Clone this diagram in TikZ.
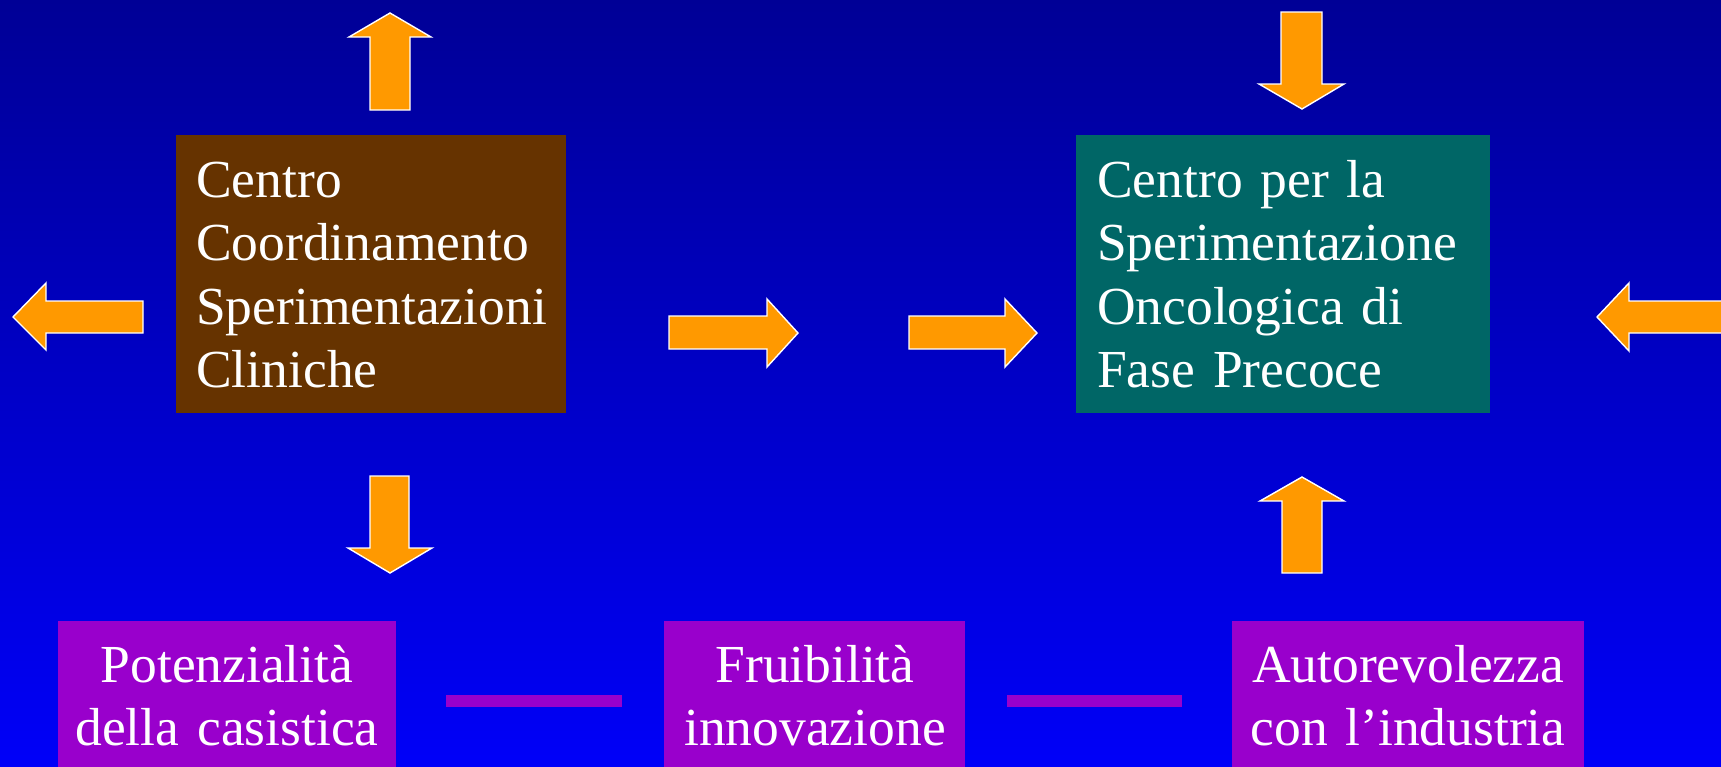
\documentclass[tikz,border=0pt]{standalone}
\usepackage{fontspec}
\setmainfont{Liberation Serif}
\newcommand\myboxfont{\fontsize{53.5pt}{63.5pt}\selectfont\spaceskip=8.5pt plus 1pt minus 1pt\relax}
\newcommand\mybottomfont{\fontsize{53.5pt}{63pt}\selectfont\spaceskip=8.5pt plus 1pt minus 1pt\relax}
\definecolor{bgtop}{RGB}{0,0,150}
\definecolor{bgmid}{RGB}{0,0,222}
\definecolor{bgbot}{RGB}{0,0,248}
\definecolor{brownbox}{HTML}{663300}
\definecolor{tealbox}{HTML}{006666}
\definecolor{purplebox}{HTML}{9900CC}
\definecolor{arroworange}{HTML}{FF9900}
\begin{document}
\begin{tikzpicture}[x=1pt,y=-1pt,
  boxshape/.style={rectangle, inner sep=0pt, anchor=north west},
  boxtext/.style={inner sep=0pt, text=white, font=\myboxfont},
  bottomtext/.style={inner sep=0pt, text=white, anchor=base, align=center, font=\mybottomfont},
  barrow/.style={fill=arroworange, draw=white, line width=1.4pt, line join=miter},
  linkbar/.style={draw=purplebox, line width=12pt}]
\useasboundingbox (0,0) rectangle (1721,766);
\clip (0,0) rectangle (1721,766);
\shade[top color=bgtop, middle color=bgmid, bottom color=bgbot] (0,0) rectangle (1721,766);

% boxes
\node[boxshape, fill=brownbox, minimum width=390pt, minimum height=278pt] (cc) at (176,135) {};
\node[boxshape, fill=tealbox, minimum width=414pt, minimum height=278pt] (cs) at (1076,135) {};
\node[boxshape, fill=purplebox, minimum width=338pt, minimum height=160pt] (p1) at (58,621) {};
\node[boxshape, fill=purplebox, minimum width=301pt, minimum height=160pt] (p2) at (664,621) {};
\node[boxshape, fill=purplebox, minimum width=352pt, minimum height=160pt] (p3) at (1232,621) {};

% texts
\node[boxtext, anchor=base west, text width=370pt, align=left] (cct) at (196,197)
  {Centro\\Coordinamento\\Sperimentazioni\\Cliniche};
\node[boxtext, anchor=base west, text width=390pt, align=left] (cst) at (1097,197)
  {Centro per la\\Sperimentazione\\Oncologica di\\Fase Precoce};
\node[bottomtext, text width=338pt] (p1t) at (227,682)
  {Potenzialità\\della casistica};
\node[bottomtext, text width=301pt] (p2t) at (815,682)
  {Fruibilità\\innovazione};
\node[bottomtext, text width=352pt] (p3t) at (1408,682)
  {Autorevolezza\\con l’industria};

% links between bottom boxes
\draw[linkbar, shorten <=50pt, shorten >=42pt] (p1.east) -- (p2.west);
\draw[linkbar, shorten <=42pt, shorten >=50pt] (p2.east) -- (p3.west);

% arrows
% up, top left
\draw[barrow] (370,110)--(370,37)--(349,37)--(390,13)--(431,37)--(410,37)--(410,110)--cycle;
% left
\draw[barrow] (143,301)--(46,301)--(46,283)--(13,317)--(46,350)--(46,333)--(143,333)--cycle;
% down, top right
\draw[barrow] (1281,12)--(1281,84)--(1259,84)--(1302,109)--(1344,84)--(1322,84)--(1322,12)--cycle;
% right, middle 1
\draw[barrow] (669,316)--(767,316)--(767,299)--(798,333)--(767,367)--(767,349)--(669,349)--cycle;
% right, middle 2
\draw[barrow] (909,316)--(1005,316)--(1005,299)--(1037,333)--(1005,367)--(1005,349)--(909,349)--cycle;
% left, far right (cut by edge)
\draw[barrow] (1740,301)--(1629,301)--(1629,283)--(1597,317)--(1629,351)--(1629,333)--(1740,333)--cycle;
% down, bottom left
\draw[barrow] (370,476)--(370,548)--(348,548)--(390,573)--(432,548)--(409,548)--(409,476)--cycle;
% up, bottom right
\draw[barrow] (1282,573)--(1282,501)--(1260,501)--(1302,477)--(1344,501)--(1322,501)--(1322,573)--cycle;
\end{tikzpicture}
\end{document}
